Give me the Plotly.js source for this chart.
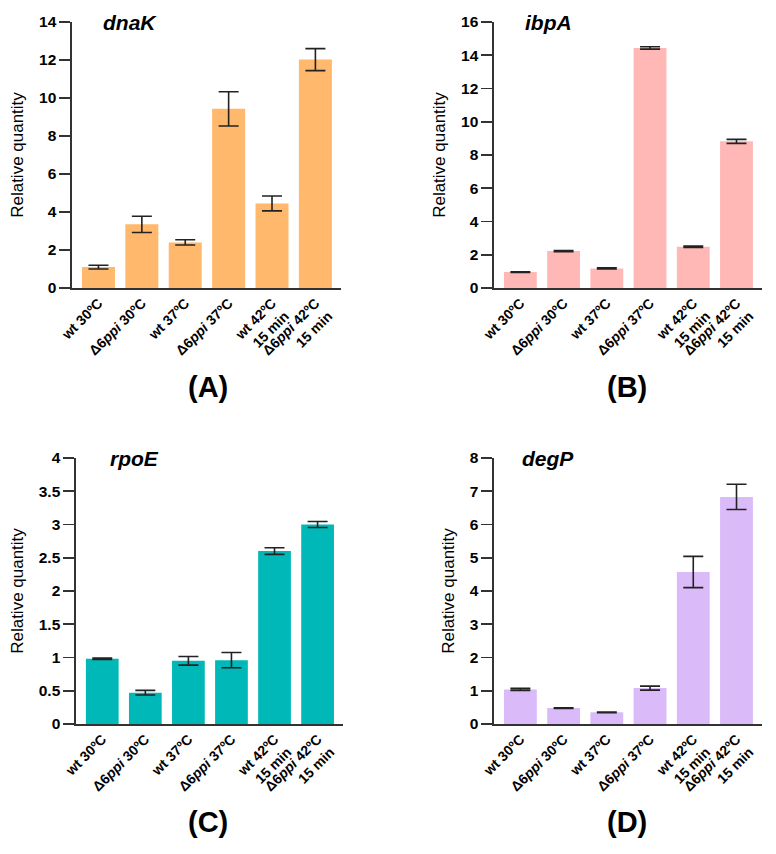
<!DOCTYPE html>
<html>
<head>
<meta charset="utf-8">
<script src="https://cdn.plot.ly/plotly-3.0.1.min.js"></script>
<style>html,body{margin:0;padding:0;background:#fff;}#chart{width:776px;height:854px;}</style>
</head>
<body>
<div id="chart"></div>
<script>
const categories = ["wt 30ºC", "Δ6<i>ppi</i> 30ºC", "wt 37ºC", "Δ6<i>ppi</i> 37ºC", "wt 42ºC<br>15 min", "Δ6<i>ppi</i> 42ºC<br>15 min"];

const dnaK_values = [1.1, 3.35, 2.4, 9.43, 4.45, 12.02];
const dnaK_errors = [0.1, 0.43, 0.14, 0.9, 0.39, 0.58];

const ibpA_values = [0.96, 2.22, 1.18, 14.44, 2.48, 8.82];
const ibpA_errors = [0.02, 0.04, 0.04, 0.07, 0.04, 0.12];

const rpoE_values = [0.98, 0.47, 0.95, 0.96, 2.6, 3.0];
const rpoE_errors = [0.01, 0.035, 0.065, 0.115, 0.05, 0.045];

const degP_values = [1.04, 0.48, 0.35, 1.08, 4.57, 6.83];
const degP_errors = [0.03, 0.01, 0.01, 0.06, 0.47, 0.38];

const genes = ["dnaK", "ibpA", "rpoE", "degP"];
const panelLabels = ["(A)", "(B)", "(C)", "(D)"];
const yTicks = [
  [0, 2, 4, 6, 8, 10, 12, 14],
  [0, 2, 4, 6, 8, 10, 12, 14, 16],
  [0, 0.5, 1, 1.5, 2, 2.5, 3, 3.5, 4],
  [0, 1, 2, 3, 4, 5, 6, 7, 8]
];
const yMax = [14, 16, 4, 8];

const W = 776, H = 854;
const colors = ["#FFB86C", "#FFB8B6", "#00B8B8", "#DABAF9"];
const valuesList = [dnaK_values, ibpA_values, rpoE_values, degP_values];
const errorsList = [dnaK_errors, ibpA_errors, rpoE_errors, degP_errors];

// pixel boxes [left, right, top, bottom]
const boxes = [
  [72, 341, 22, 288],
  [494, 762, 22, 288],
  [76, 343, 458, 724],
  [494, 762, 458, 724]
];

const FONT = "Liberation Sans, Arial, sans-serif";
const data = [];
const layout = {
  width: W, height: H,
  margin: {l: 0, r: 0, t: 0, b: 0},
  paper_bgcolor: "#fff", plot_bgcolor: "#fff",
  showlegend: false,
  bargap: 0.24,
  font: {family: FONT, color: "#000", size: 14},
  annotations: []
};

for (let i = 0; i < 4; i++) {
  const s = i === 0 ? "" : String(i + 1);
  data.push({
    type: "bar",
    x: categories,
    y: valuesList[i],
    xaxis: "x" + s, yaxis: "y" + s,
    marker: {color: colors[i], line: {width: 0}},
    error_y: {type: "data", array: errorsList[i], visible: true, color: "#222", thickness: 1.6, width: 10},
    hoverinfo: "skip"
  });
  const b = boxes[i];
  layout["xaxis" + s] = {
    domain: [b[0] / W, b[1] / W],
    anchor: "y" + s,
    range: [-0.61, 5.59],
    type: "category",
    tickmode: "array",
    tickvals: categories,
    ticktext: categories.map(c => "<b>" + c.replace("<br>", "</b><br><b>") + "</b>"),
    showline: true, linecolor: "#333", linewidth: 1.6,
    ticks: "", showgrid: false, zeroline: false,
    tickangle: -45,
    ticklabelstandoff: 0,
    tickfont: {size: 14, family: FONT, color: "#000", weight: 700},
    fixedrange: true
  };
  layout["yaxis" + s] = {
    domain: [1 - b[3] / H, 1 - b[2] / H],
    anchor: "x" + s,
    range: [0, yMax[i]],
    tickmode: "array",
    tickvals: yTicks[i],
    ticktext: yTicks[i].map(v => "<b>" + v + "</b>"),
    showline: true, linecolor: "#333", linewidth: 1.6,
    ticks: "outside", ticklen: 11, tickwidth: 1.6, tickcolor: "#333",
    showgrid: false, zeroline: false,
    tickfont: {size: 15.5, family: FONT, color: "#000", weight: 700},
    title: {text: "Relative quantity", font: {size: 17, family: FONT, color: "#000"}, standoff: 11},
    fixedrange: true
  };
  layout.annotations.push({
    text: "<b><i>" + genes[i] + "</i></b>",
    xref: "paper", yref: "paper",
    x: (b[0] + (i % 2 === 0 ? 58 : 54)) / W, y: 1 - b[2] / H,
    xanchor: "center", yanchor: "middle",
    showarrow: false,
    font: {size: 21, color: "#000"}
  });
  layout.annotations.push({
    text: "<b>" + panelLabels[i] + "</b>",
    xref: "paper", yref: "paper",
    x: (i % 2 === 0 ? 208 : 627) / W, y: 1 - (i < 2 ? 387 : 822) / H,
    xanchor: "center", yanchor: "middle",
    showarrow: false,
    font: {size: 29, color: "#000"}
  });
}

Plotly.newPlot("chart", data, layout, {staticPlot: true, displayModeBar: false});
</script>
</body>
</html>
